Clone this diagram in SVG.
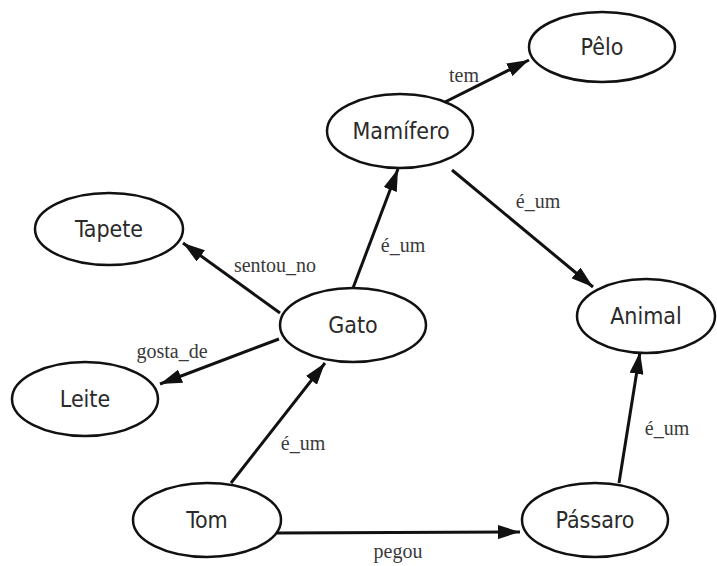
<svg xmlns="http://www.w3.org/2000/svg" width="717" height="566" viewBox="0 0 717 566">
<style>
.node ellipse{fill:#fff;stroke:#111;stroke-width:2.5}
.node text{font-family:"DejaVu Sans Condensed","DejaVu Sans",Verdana,sans-serif;font-stretch:condensed;font-size:23px;fill:#2a2a2a;text-anchor:middle}
.edges line{stroke:#111;stroke-width:3;marker-end:url(#arr)}
.edges text{font-family:"Liberation Serif","DejaVu Serif","Times New Roman",serif;font-size:20px;fill:#3a3a3a;text-anchor:middle}
</style>
<defs>
<marker id="arr" markerUnits="userSpaceOnUse" viewBox="0 0 22 14" refX="22" refY="7" markerWidth="22" markerHeight="14" orient="auto">
<path d="M0,0 L22,7 L0,14 Z" fill="#111"/>
</marker>
</defs>
<rect width="717" height="566" fill="#fff"/>
<g class="edges">
<line x1="433" y1="108" x2="529" y2="60"/>
<line x1="452" y1="170" x2="593" y2="287"/>
<line x1="353" y1="288" x2="398" y2="169"/>
<line x1="280" y1="313" x2="183" y2="243"/>
<line x1="279" y1="339" x2="160" y2="384"/>
<line x1="231" y1="483" x2="325" y2="363"/>
<line x1="277" y1="533" x2="520" y2="532"/>
<line x1="619" y1="483" x2="640" y2="352"/>
<text x="464" y="82">tem</text>
<text x="538" y="208">é_um</text>
<text x="403" y="252">é_um</text>
<text x="275" y="272">sentou_no</text>
<text x="172" y="358">gosta_de</text>
<text x="303" y="450">é_um</text>
<text x="398" y="558">pegou</text>
<text x="667" y="435">é_um</text>
</g>
<g id="pelo" class="node"><ellipse cx="602" cy="47" rx="73" ry="35"/><text x="602" y="55">Pêlo</text></g>
<g id="mamifero" class="node"><ellipse cx="400" cy="131" rx="73" ry="37"/><text x="401" y="139">Mamífero</text></g>
<g id="tapete" class="node"><ellipse cx="109" cy="229" rx="74" ry="36"/><text x="109" y="237">Tapete</text></g>
<g id="gato" class="node"><ellipse cx="353" cy="325" rx="73" ry="37"/><text x="353" y="333">Gato</text></g>
<g id="leite" class="node"><ellipse cx="85" cy="399" rx="73" ry="37"/><text x="85" y="407">Leite</text></g>
<g id="animal" class="node"><ellipse cx="646" cy="316" rx="69" ry="37"/><text x="646" y="324">Animal</text></g>
<g id="tom" class="node"><ellipse cx="207" cy="520" rx="74" ry="37"/><text x="207" y="528">Tom</text></g>
<g id="passaro" class="node"><ellipse cx="595" cy="520" rx="73" ry="37"/><text x="595" y="528">Pássaro</text></g>
</svg>
